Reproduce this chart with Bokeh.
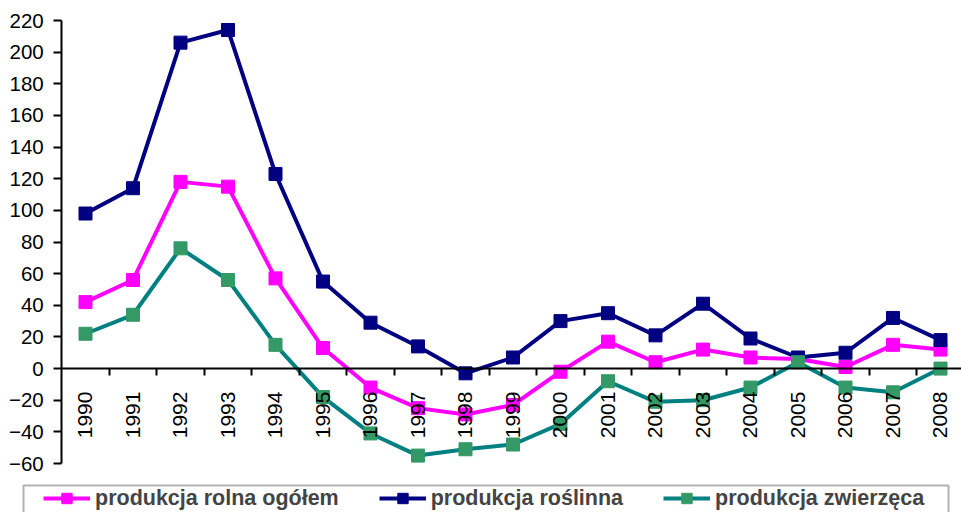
from math import pi
from bokeh.plotting import figure
from bokeh.models import Range1d, LinearAxis, FixedTicker, Legend, LegendItem, BoxAnnotation
from bokeh.embed import file_html
from bokeh.resources import INLINE

years = list(range(1990, 2009))
year_labels = [str(y) for y in years]
rolna = [42, 56, 118, 115, 57, 13, -12, -25, -29, -23, -2, 17, 4, 12, 7, 6, 1, 15, 12]
roslinna = [98, 114, 206, 214, 123, 55, 29, 14, -3, 7, 30, 35, 21, 41, 19, 7, 10, 32, 18]
zwierzeca = [22, 34, 76, 56, 15, -18, -41, -55, -51, -48, -35, -8, -21, -20, -12, 4, -12, -15, 0]
y_ticks = list(range(-60, 221, 20))
series_names = ["produkcja rolna ogółem", "produkcja roślinna", "produkcja zwierzęca"]

FONT = "Liberation Sans"

# the frame fills the canvas; axes are drawn at fixed positions inside it
W, H = 961, 512
x0_px, step_px = 85.0, 47.5            # pixel of first category, category spacing
y_top_px, y_bot_px = 20.0, 463.0       # pixels of 220 and -60
ppu = (y_bot_px - y_top_px) / (y_ticks[-1] - y_ticks[0])
x_start = years[0] - x0_px / step_px
x_end = x_start + W / step_px
y_end = y_ticks[-1] + y_top_px / ppu
y_start = y_ticks[0] - (H - y_bot_px) / ppu

p = figure(width=W, height=H, x_range=Range1d(x_start, x_end), y_range=Range1d(y_start, y_end),
           x_axis_type=None, y_axis_type=None, toolbar_location=None, output_backend="svg",
           title_location=None, min_border=0)
p.outline_line_color = None
p.background_fill_color = "white"

x_left = years[0] - 0.5
xaxis = LinearAxis(fixed_location=0, bounds=(x_left, x_end),
                   ticker=FixedTicker(ticks=years, minor_ticks=[y + 0.5 for y in years[:-1]]))
xaxis.major_label_overrides = {y: s for y, s in zip(years, year_labels)}
xaxis.major_tick_in = 0
xaxis.major_tick_out = 0
xaxis.major_tick_line_color = None
xaxis.minor_tick_in = 0
xaxis.minor_tick_out = 7
xaxis.minor_tick_line_width = 2
xaxis.minor_tick_line_color = "black"
xaxis.axis_line_width = 2
xaxis.axis_line_color = "black"
xaxis.major_label_orientation = pi / 2
xaxis.major_label_standoff = 16
xaxis.major_label_text_font = FONT
xaxis.major_label_text_font_size = "21px"
xaxis.major_label_text_color = "black"
p.add_layout(xaxis, "below")

yaxis = LinearAxis(fixed_location=x_left, bounds=(y_ticks[0], y_ticks[-1]),
                   ticker=FixedTicker(ticks=y_ticks))
yaxis.major_tick_in = 0
yaxis.major_tick_out = 8
yaxis.major_tick_line_width = 2
yaxis.minor_tick_line_color = None
yaxis.axis_line_width = 2
yaxis.axis_line_color = "black"
yaxis.major_label_standoff = 10
yaxis.major_label_text_font = FONT
yaxis.major_label_text_font_size = "20.5px"
yaxis.major_label_text_color = "black"
p.add_layout(yaxis, "left")

styles = [(rolna, "#FF00FF", "#FF00FF"),
          (roslinna, "#000080", "#000080"),
          (zwierzeca, "#008080", "#339966")]
items = []
for (vals, lc, mc), name in zip(styles, series_names):
    rl = p.line(years, vals, line_color=lc, line_width=4)
    rm = p.scatter(years, vals, marker="square", size=13, fill_color=mc, line_color=mc)
    items.append(LegendItem(label=name, renderers=[rl, rm]))

legend = Legend(items=items, orientation="horizontal", location=(43, 1), padding=0, spacing=40,
                glyph_width=47, glyph_height=26, label_height=26, label_standoff=5,
                label_text_font=FONT, label_text_font_size="21.5px", label_text_font_style="bold",
                border_line_color=None, background_fill_alpha=0, margin=0)
p.add_layout(legend, "center")

box = BoxAnnotation(left=23, right=948, top=485, bottom=540,
                    left_units="canvas", right_units="canvas", top_units="canvas", bottom_units="canvas",
                    fill_alpha=0, line_color="black", line_width=2)
p.add_layout(box)

open("out.html", "w").write(file_html(p, INLINE))
